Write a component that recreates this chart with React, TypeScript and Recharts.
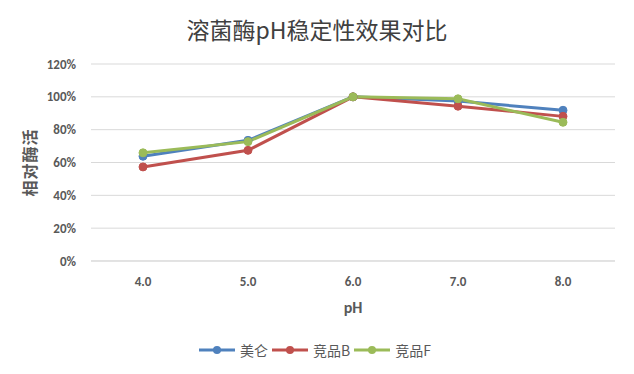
import React from 'react';
import { LineChart, Line, XAxis, YAxis, CartesianGrid, Legend } from 'recharts';

const categories = ['4.0', '5.0', '6.0', '7.0', '8.0'];
const meilun = [0.638, 0.735, 1.0, 0.975, 0.918];
const jingpinB = [0.573, 0.674, 1.0, 0.943, 0.881];
const jingpinF = [0.659, 0.727, 1.0, 0.988, 0.845];
const yTicks = [0, 0.2, 0.4, 0.6, 0.8, 1.0, 1.2];

const series = [
  { key: 'meilun', name: '美仑', color: '#4F81BD', values: meilun },
  { key: 'jingpinB', name: '竞品B', color: '#C0504D', values: jingpinB },
  { key: 'jingpinF', name: '竞品F', color: '#9BBB59', values: jingpinF },
];

const data = categories.map((c, i) => {
  const row: any = { ph: c };
  series.forEach((s) => (row[s.key] = s.values[i]));
  return row;
});

const CJK = '"Noto Sans CJK SC", "Noto Sans", sans-serif';
const LAT = 'Calibri, Carlito, "Liberation Sans", "Noto Sans", sans-serif';

const renderLegend = () => (
  <div style={{ display: 'flex', justifyContent: 'center', alignItems: 'center', fontFamily: CJK, fontSize: 14, color: '#595959' }}>
    {series.map((s) => (
      <div key={s.key} style={{ display: 'flex', alignItems: 'center', marginRight: 4 }}>
        <svg width={36} height={12} style={{ marginRight: 5 }}>
          <line x1={0} y1={6} x2={36} y2={6} stroke={s.color} strokeWidth={3} />
          <circle cx={18} cy={6} r={4} fill={s.color} />
        </svg>
        <span>{s.name}</span>
      </div>
    ))}
  </div>
);

const YLabel = (props: any) => {
  const vb = props.viewBox || {};
  const x = 29;
  const y = vb.y + vb.height / 2;
  return (
    <text x={x} y={y} transform={`rotate(-90, ${x}, ${y})`} textAnchor="middle" dominantBaseline="central"
      fill="#595959" fontFamily={CJK} fontSize={16} fontWeight="bold" letterSpacing={1}>
      相对酶活
    </text>
  );
};

export default function App() {
  return (
    <div style={{ position: 'absolute', left: 0, top: 0, width: 634, height: 374, background: '#fff' }}>
      <div style={{ position: 'absolute', left: 0, top: 12, width: 634, textAlign: 'center', fontFamily: CJK, fontSize: 23, color: '#404040', lineHeight: '34px' }}>
        溶菌酶pH稳定性效果对比
      </div>
      <LineChart width={634} height={374} data={data} margin={{ top: 64, right: 19, bottom: 63, left: 31 }}>
        <CartesianGrid vertical={false} stroke="#d9d9d9" strokeWidth={1} />
        <XAxis dataKey="ph" padding={{ left: 52, right: 52 }} height={50} tickLine={false}
          axisLine={{ stroke: '#d9d9d9' }} tick={{ fill: '#595959', fontSize: 13, fontWeight: 'bold', fontFamily: LAT }}
          tickMargin={10}
          label={{ value: 'pH', position: 'insideBottom', offset: -2, fill: '#595959', fontSize: 16, fontWeight: 'bold', fontFamily: LAT }} />
        <YAxis width={60} domain={[0, 1.2]} ticks={yTicks} axisLine={false} tickLine={false}
          tickFormatter={(v: number) => `${Math.round(v * 100)}%`}
          tick={{ fill: '#595959', fontSize: 13, fontWeight: 'bold', fontFamily: LAT }} tickMargin={9}
          label={<YLabel />} />
        <Legend verticalAlign="middle" align="center" content={renderLegend}
          wrapperStyle={{ top: 340, left: 0, width: 634 }} />
        {series.map((s) => (
          <Line key={s.key} dataKey={s.key} name={s.name} stroke={s.color} strokeWidth={3}
            dot={{ r: 4, fill: s.color, stroke: s.color, strokeWidth: 1 }} activeDot={false}
            isAnimationActive={false} />
        ))}
      </LineChart>
    </div>
  );
}
